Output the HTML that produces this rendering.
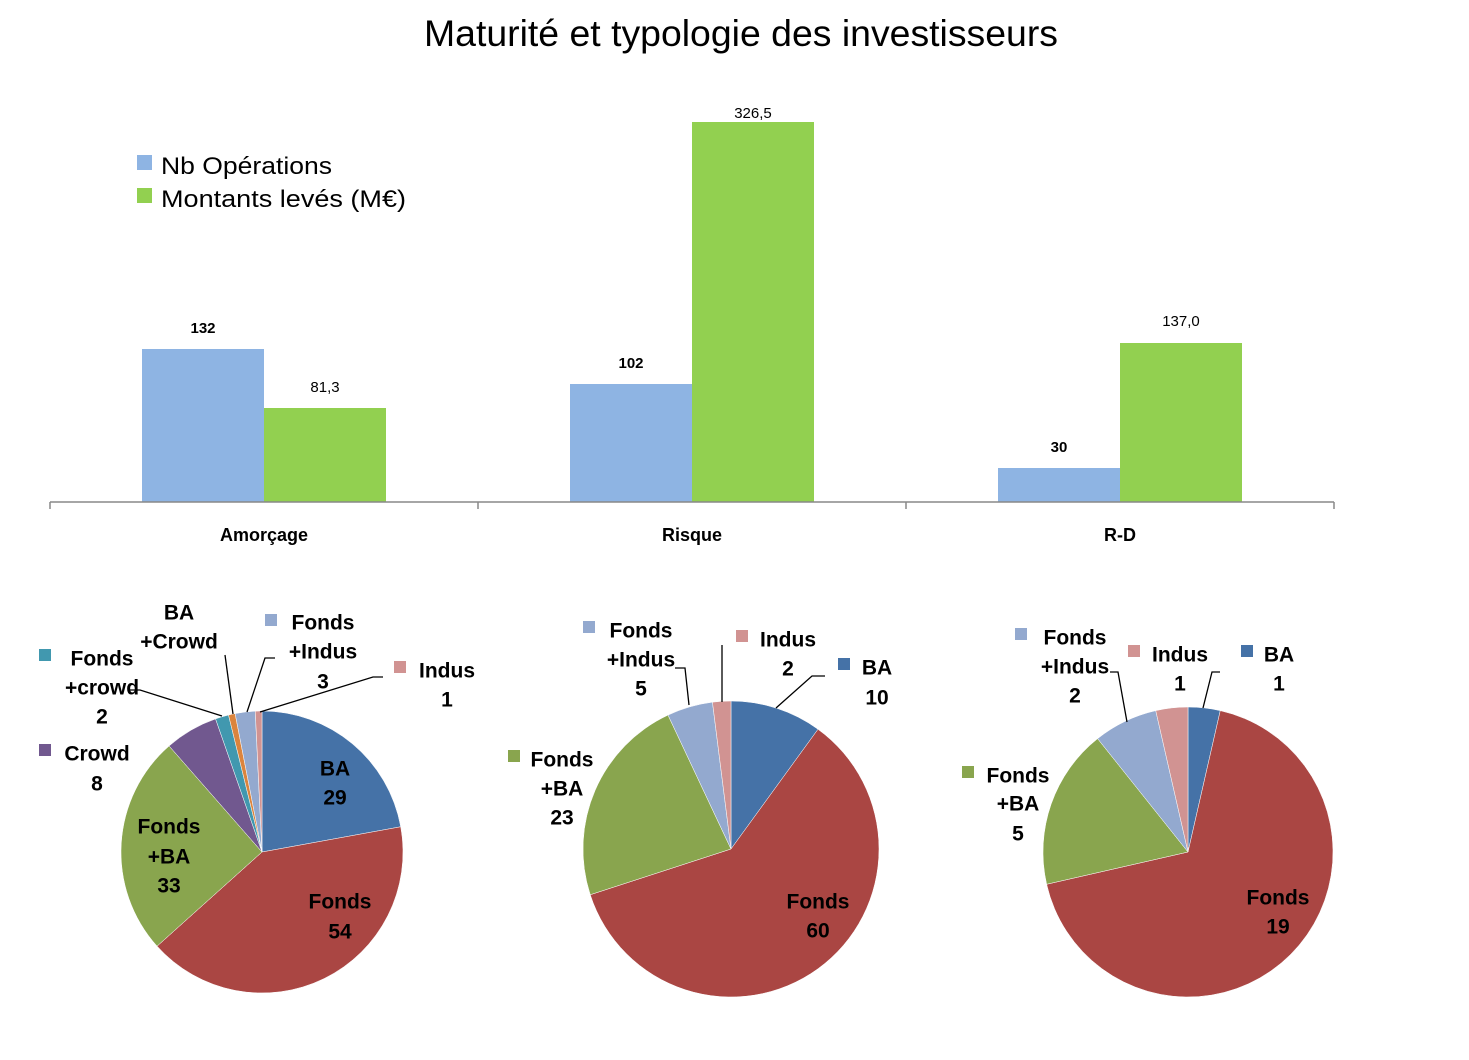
<!DOCTYPE html>
<html><head><meta charset="utf-8">
<style>
html,body{margin:0;padding:0;background:#fff;}
svg{display:block;font-family:"Liberation Sans",sans-serif;}
.pl{font-weight:bold;font-size:21px;fill:#000;text-anchor:middle;dominant-baseline:middle;}
.bl{font-size:15px;text-anchor:middle;dominant-baseline:middle;}
</style></head><body>
<svg id="s" width="1469" height="1060" viewBox="0 0 1469 1060">
<text x="741" y="46" font-size="37" text-anchor="middle" textLength="634" lengthAdjust="spacingAndGlyphs">Maturité et typologie des investisseurs</text>
<rect x="142" y="349" width="122" height="153" fill="#8EB4E3"/>
<rect x="264" y="408" width="122" height="94" fill="#92D050"/>
<rect x="570" y="384" width="122" height="118" fill="#8EB4E3"/>
<rect x="692" y="122" width="122" height="380" fill="#92D050"/>
<rect x="998" y="468" width="122" height="34" fill="#8EB4E3"/>
<rect x="1120" y="343" width="122" height="159" fill="#92D050"/>
<g stroke="#888" stroke-width="1.5">
<line x1="50" y1="502" x2="1334" y2="502"/>
<line x1="50" y1="502" x2="50" y2="509"/><line x1="478" y1="502" x2="478" y2="509"/>
<line x1="906" y1="502" x2="906" y2="509"/><line x1="1334" y1="502" x2="1334" y2="509"/>
</g>
<g class="bl">
<text x="203" y="329" font-weight="bold">132</text><text x="325" y="388">81,3</text>
<text x="631" y="364" font-weight="bold">102</text><text x="753" y="114">326,5</text>
<text x="1059" y="448" font-weight="bold">30</text><text x="1181" y="322">137,0</text>
</g>
<g font-weight="bold" font-size="18" text-anchor="middle">
<text x="264" y="541">Amorçage</text><text x="692" y="541">Risque</text><text x="1120" y="541">R-D</text>
</g>
<rect x="137" y="155" width="15" height="15" fill="#8EB4E3"/>
<rect x="137" y="188" width="15" height="15" fill="#92D050"/>
<text x="161" y="174" font-size="24" textLength="171" lengthAdjust="spacingAndGlyphs">Nb Opérations</text>
<text x="161" y="207" font-size="24" textLength="245" lengthAdjust="spacingAndGlyphs">Montants levés (M€)</text>
<g id="pies"></g>
<g stroke="#000" stroke-width="1.3" fill="none">
<polyline points="130,690 140,690 222,716"/>
<polyline points="225,655 233,714"/>
<polyline points="275,658 265,658 247,712"/>
<polyline points="383,677 373,677 260,712"/>
<polyline points="675,668 685,668 689,705"/>
<polyline points="722,645 722,702"/>
<polyline points="825,676 812,676 776,708"/>
<polyline points="1110,672 1118,672 1127,722"/>
<polyline points="1220,672 1212,672 1203,708"/>
</g>
<g>
<rect x="39" y="649" width="12" height="12" fill="#4198AF"/>
<rect x="39" y="744" width="12" height="12" fill="#71588F"/>
<rect x="265" y="614" width="12" height="12" fill="#93A9CF"/>
<rect x="394" y="661" width="12" height="12" fill="#D19392"/>
<rect x="583" y="621" width="12" height="12" fill="#93A9CF"/>
<rect x="736" y="630" width="12" height="12" fill="#D19392"/>
<rect x="838" y="658" width="12" height="12" fill="#4572A7"/>
<rect x="508" y="750" width="12" height="12" fill="#89A54E"/>
<rect x="1015" y="628" width="12" height="12" fill="#93A9CF"/>
<rect x="1128" y="645" width="12" height="12" fill="#D19392"/>
<rect x="1241" y="645" width="12" height="12" fill="#4572A7"/>
<rect x="962" y="766" width="12" height="12" fill="#89A54E"/>
</g>
<g class="pl" transform="translate(0,2)">
<text x="335" y="768">BA</text><text x="335" y="797">29</text>
<text x="340" y="901">Fonds</text><text x="340" y="931">54</text>
<text x="169" y="826">Fonds</text><text x="169" y="856">+BA</text><text x="169" y="885">33</text>
<text x="97" y="753">Crowd</text><text x="97" y="783">8</text>
<text x="102" y="658">Fonds</text><text x="102" y="687">+crowd</text><text x="102" y="716">2</text>
<text x="179" y="612">BA</text><text x="179" y="641">+Crowd</text>
<text x="323" y="622">Fonds</text><text x="323" y="651">+Indus</text><text x="323" y="681">3</text>
<text x="447" y="670">Indus</text><text x="447" y="699">1</text>
<text x="641" y="630">Fonds</text><text x="641" y="659">+Indus</text><text x="641" y="688">5</text>
<text x="788" y="639">Indus</text><text x="788" y="668">2</text>
<text x="877" y="667">BA</text><text x="877" y="697">10</text>
<text x="562" y="759">Fonds</text><text x="562" y="788">+BA</text><text x="562" y="817">23</text>
<text x="818" y="901">Fonds</text><text x="818" y="930">60</text>
<text x="1075" y="637">Fonds</text><text x="1075" y="666">+Indus</text><text x="1075" y="695">2</text>
<text x="1180" y="654">Indus</text><text x="1180" y="683">1</text>
<text x="1279" y="654">BA</text><text x="1279" y="683">1</text>
<text x="1018" y="775">Fonds</text><text x="1018" y="803">+BA</text><text x="1018" y="833">5</text>
<text x="1278" y="897">Fonds</text><text x="1278" y="926">19</text>
</g>
</svg>
<script>
var C={BA:"#4572A7",F:"#AA4643",FB:"#89A54E",CR:"#71588F",FC:"#4198AF",BC:"#DB843D",FI:"#93A9CF",I:"#D19392"};
var pies=[[262,852,141,[[29,"BA"],[54,"F"],[33,"FB"],[8,"CR"],[2,"FC"],[1,"BC"],[3,"FI"],[1,"I"]]],
[731,849,148,[[10,"BA"],[60,"F"],[23,"FB"],[5,"FI"],[2,"I"]]],
[1188,852,145,[[1,"BA"],[19,"F"],[5,"FB"],[2,"FI"],[1,"I"]]]];
var g=document.getElementById("pies"),h="";
pies.forEach(function(p){var cx=p[0],cy=p[1],r=p[2],d=p[3],t=0;d.forEach(function(s){t+=s[0];});
var a=0;d.forEach(function(s){var a0=a/t*2*Math.PI,a1=(a+s[0])/t*2*Math.PI;a+=s[0];
var x0=cx+r*Math.sin(a0),y0=cy-r*Math.cos(a0),x1=cx+r*Math.sin(a1),y1=cy-r*Math.cos(a1);
h+='<path d="M'+cx+','+cy+'L'+x0+','+y0+'A'+r+','+r+' 0 '+((a1-a0)>Math.PI?1:0)+' 1 '+x1+','+y1+'Z" fill="'+C[s[1]]+'" stroke="#fff" stroke-width="0.5"/>';});});
g.innerHTML=h;
</script>
</body></html>
